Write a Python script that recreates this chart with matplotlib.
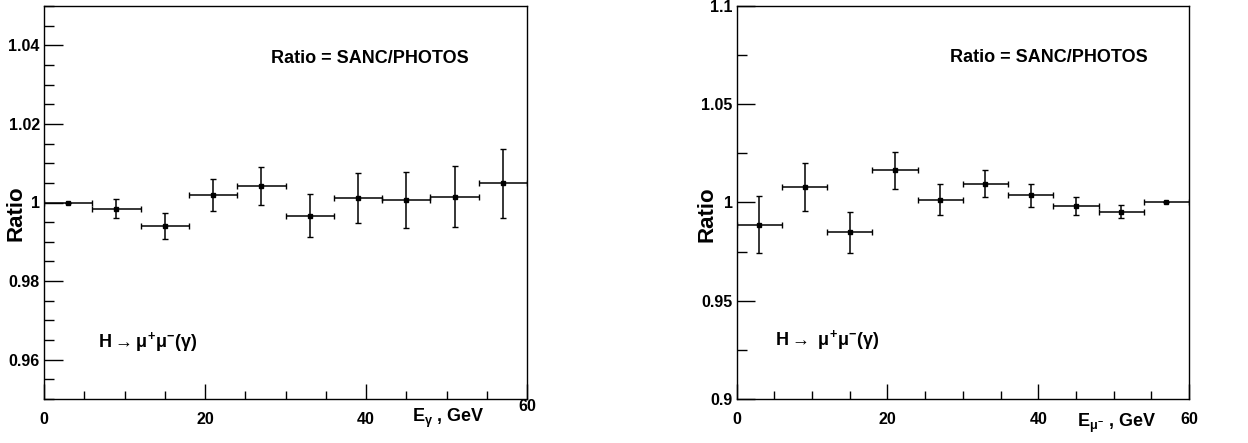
import matplotlib
matplotlib.use('Agg')
import matplotlib.pyplot as plt
from matplotlib.ticker import MultipleLocator

# bin centres (6 GeV wide bins from 0 to 60)
e_centres = [3, 9, 15, 21, 27, 33, 39, 45, 51, 57]
bin_half = [3] * 10

# left: photon energy
ratio_gamma = [1.0000, 0.9984, 0.9941, 1.0020, 1.0042, 0.9966, 1.0012, 1.0006, 1.0015, 1.0049]
err_gamma = [0.0000, 0.0024, 0.0033, 0.0041, 0.0049, 0.0055, 0.0064, 0.0071, 0.0078, 0.0088]

# right: mu- energy
ratio_mu = [0.9888, 1.0080, 0.9848, 1.0163, 1.0015, 1.0095, 1.0036, 0.9983, 0.9953, 1.0000]
err_mu = [0.0147, 0.0122, 0.0103, 0.0094, 0.0081, 0.0069, 0.0058, 0.0045, 0.0032, 0.0000]

plt.rcParams['font.family'] = ['Liberation Sans', 'DejaVu Sans']
plt.rcParams['font.weight'] = 'bold'
plt.rcParams['mathtext.fontset'] = 'custom'
plt.rcParams['mathtext.rm'] = 'Liberation Sans'
plt.rcParams['mathtext.it'] = 'Liberation Sans'
plt.rcParams['mathtext.bf'] = 'Liberation Sans:bold'

W, H = 1248, 443
fig = plt.figure(figsize=(W / 100, H / 100), dpi=100)


def fmt(v, p):
    return '%g' % round(v, 4)


def make_panel(rect, ratio, err, ylim, ymajor, yminor, ytick_len):
    ax = fig.add_axes(rect)
    ax.errorbar(e_centres, ratio, xerr=bin_half, yerr=err, fmt='s', color='black',
                ms=2.5, lw=1.1, elinewidth=1.1, capsize=2.2, capthick=1.0)
    ax.set_xlim(0, 60)
    ax.set_ylim(*ylim)
    ax.xaxis.set_major_locator(MultipleLocator(20))
    ax.xaxis.set_minor_locator(MultipleLocator(5))
    ax.yaxis.set_major_locator(MultipleLocator(ymajor))
    ax.yaxis.set_minor_locator(MultipleLocator(yminor))
    ax.yaxis.set_major_formatter(plt.FuncFormatter(fmt))
    ax.tick_params(which='both', direction='in', top=False, right=False,
                   labelsize=11.5, width=1.0)
    ax.tick_params(axis='y', which='major', length=ytick_len[0], pad=3)
    ax.tick_params(axis='y', which='minor', length=ytick_len[1])
    ax.tick_params(axis='x', which='major', length=11, pad=9)
    ax.tick_params(axis='x', which='minor', length=5.5)
    for sp in ax.spines.values():
        sp.set_linewidth(1.0)
    return ax


# left panel
ax1 = make_panel([44 / W, 1 - 399 / H, 483 / W, 393 / H], ratio_gamma, err_gamma,
                 (0.95, 1.05), 0.02, 0.005, (14, 7.5))
# ROOT draws the last x label a bit higher here, so put it by hand
ax1.xaxis.set_major_formatter(plt.FuncFormatter(lambda v, p: '' if v >= 60 else '%g' % v))
ax1.annotate('60', xy=(60, 0), xycoords=('data', 'axes fraction'), xytext=(0, -5.5),
             textcoords='offset points', ha='center', va='center', fontsize=11.5,
             fontweight='bold')
ax1.text(6.7, 0.9645, r'H$\rightarrow\mu^{\mathbf{+}}\mu^{\mathbf{-}}$($\gamma$)',
         fontsize=13, fontweight='bold', va='center')
ax1.text(28.2, 1.0366, 'Ratio = SANC/PHOTOS', fontsize=13, fontweight='bold', va='center')

# right panel
ax2 = make_panel([736.7 / W, 1 - 399 / H, 452.3 / W, 393 / H], ratio_mu, err_mu,
                 (0.9, 1.1), 0.05, 0.025, (13, 7))
ax2.text(28.3, 1.074, 'Ratio = SANC/PHOTOS', fontsize=13, fontweight='bold', va='center')
ax2.text(5.1, 0.930, r'H$\rightarrow$ $\mu^{\mathbf{+}}\mu^{\mathbf{-}}$($\gamma$)',
         fontsize=13, fontweight='bold', va='center')

# axis titles placed like ROOT
fig.text(16 / W, 1 - 213 / H, 'Ratio', rotation=90, fontsize=16, fontweight='bold',
         ha='center', va='center')
fig.text(707 / W, 1 - 214 / H, 'Ratio', rotation=90, fontsize=16, fontweight='bold',
         ha='center', va='center')
fig.text(412 / W, 1 - 418 / H, r'E$_{\gamma}$ , GeV', fontsize=13, fontweight='bold',
         ha='left', va='center')
fig.text(1077 / W, 1 - 423 / H, r'E$_{\mu^{-}}$ , GeV', fontsize=13, fontweight='bold',
         ha='left', va='center')

fig.savefig('out.png', dpi=100)
